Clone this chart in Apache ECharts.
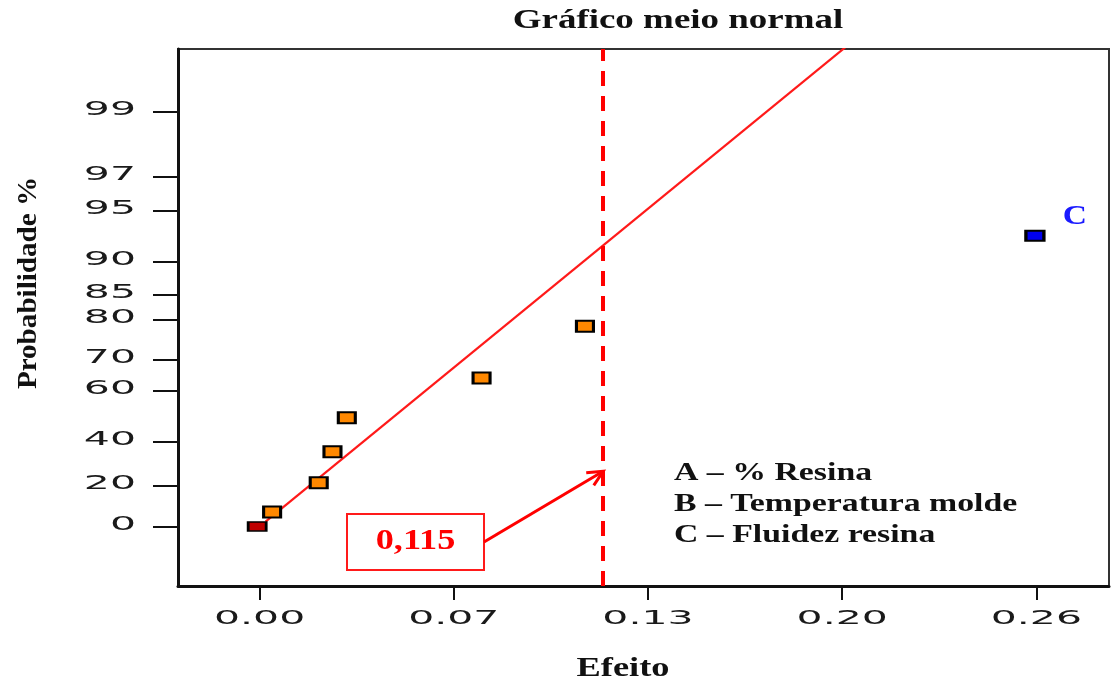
<!DOCTYPE html>
<html>
<head>
<meta charset="utf-8">
<script src="https://cdn.jsdelivr.net/npm/echarts@6/dist/echarts.min.js"></script>
<style>
  html, body { margin: 0; padding: 0; background: #fff; }
  #chart { width: 1112px; height: 685px; }
</style>
</head>
<body>
<div id="chart"></div>
<script>
// Half-normal probability plot of the effects (probability axis in %).
const probTicks = [0, 20, 40, 60, 70, 80, 85, 90, 95, 97, 99];
const effectTicks = [0, 0.065, 0.13, 0.195, 0.26];
const effectTickLabels = ['0.00', '0.07', '0.13', '0.20', '0.26'];

// effects and their half-normal probabilities (%)
const effects = [0.0042, 0.0198, 0.0244, 0.0292, 0.0743, 0.1089];
const effectProbs = [7.1, 21.4, 35.7, 50.0, 64.3, 78.6];
const significantEffects = [0.2595];
const significantProbs = [92.9];
const significantNames = ['C'];
const originEffects = [-0.0008];
const originProbs = [0];

// fitted reference line (end points) and the significance threshold
const fitEffects = [0.002, 0.2];
const fitProbs = [2.4, 99.76];
const threshold = 0.115;
const thresholdLabel = '0,115';
const arrowTipProb = 26.8;

const factorNames = ['A – % Resina', 'B – Temperatura molde', 'C – Fluidez resina'];

// inverse of the standard normal CDF (Acklam)
function invNorm(p) {
  const a = [-3.969683028665376e+01, 2.209460984245205e+02, -2.759285104469687e+02, 1.383577518672690e+02, -3.066479806614716e+01, 2.506628277459239e+00];
  const b = [-5.447609879822406e+01, 1.615858368580409e+02, -1.556989798598866e+02, 6.680131188771972e+01, -1.328068155288572e+01];
  const c = [-7.784894002430293e-03, -3.223964580411365e-01, -2.400758277161838e+00, -2.549732539343734e+00, 4.374664141464968e+00, 2.938163982698783e+00];
  const d = [7.784695709041462e-03, 3.224671290700398e-01, 2.445134137142996e+00, 3.754408661907416e+00];
  const plow = 0.02425, phigh = 1 - plow;
  let q, r;
  if (p < plow) {
    q = Math.sqrt(-2 * Math.log(p));
    return (((((c[0]*q+c[1])*q+c[2])*q+c[3])*q+c[4])*q+c[5]) / ((((d[0]*q+d[1])*q+d[2])*q+d[3])*q+1);
  }
  if (p <= phigh) {
    q = p - 0.5; r = q * q;
    return (((((a[0]*r+a[1])*r+a[2])*r+a[3])*r+a[4])*r+a[5])*q / (((((b[0]*r+b[1])*r+b[2])*r+b[3])*r+b[4])*r+1);
  }
  q = Math.sqrt(-2 * Math.log(1 - p));
  return -(((((c[0]*q+c[1])*q+c[2])*q+c[3])*q+c[4])*q+c[5]) / ((((d[0]*q+d[1])*q+d[2])*q+d[3])*q+1);
}
// half-normal score of a percentage
const hn = pct => (pct <= 0 ? 0 : invNorm(0.5 + pct / 200));

const pairs = (xs, ps) => xs.map((x, i) => [x, hn(ps[i])]);

const SERIF = '"Liberation Serif", "DejaVu Serif", serif';
const SANS = '"DejaVu Sans", sans-serif';

const chart = echarts.init(document.getElementById('chart'));

chart.setOption({
  backgroundColor: '#ffffff',
  animation: false,
  grid: {
    left: 178, right: 3, top: 49, bottom: 99,
    show: true, borderColor: '#333', borderWidth: 2, backgroundColor: 'transparent'
  },
  xAxis: {
    type: 'value', min: -0.0273, max: 0.2843,
    axisLine: { show: true, onZero: false, lineStyle: { color: '#111', width: 3 } },
    axisTick: { show: true, customValues: effectTicks, length: 14, lineStyle: { color: '#111', width: 2 } },
    axisLabel: { show: false },
    splitLine: { show: false }
  },
  yAxis: {
    type: 'value', min: -0.370, max: 2.965,
    axisLine: { show: true, onZero: false, lineStyle: { color: '#111', width: 3 } },
    axisTick: { show: true, customValues: probTicks.map(hn), length: 25, lineStyle: { color: '#111', width: 2 } },
    axisLabel: { show: false },
    splitLine: { show: false }
  },
  series: [
    {
      name: 'ajuste', type: 'line', data: pairs(fitEffects, fitProbs),
      symbol: 'none', clip: true,
      lineStyle: { color: '#ff1a1a', width: 2.2 },
      markLine: {
        silent: true, symbol: ['none', 'none'], precision: 4,
        label: { show: false },
        lineStyle: { color: '#ff0000', width: 4, type: [15, 10], opacity: 1 },
        data: [{ xAxis: threshold }]
      },
      z: 2
    },
    {
      name: 'origem', type: 'scatter', data: pairs(originEffects, originProbs),
      symbol: 'rect', symbolSize: [18, 9],
      itemStyle: { color: '#c00000', borderColor: '#000', borderWidth: 2, opacity: 1 },
      z: 3
    },
    {
      name: 'efeitos', type: 'scatter', data: pairs(effects, effectProbs),
      symbol: 'rect', symbolSize: [17, 11],
      itemStyle: { color: '#ff8800', borderColor: '#000', borderWidth: 2.5, opacity: 1 },
      z: 4
    },
    {
      name: 'significativo', type: 'scatter', data: pairs(significantEffects, significantProbs),
      symbol: 'rect', symbolSize: [18, 10],
      itemStyle: { color: '#0000ee', borderColor: '#000', borderWidth: 2.5, opacity: 1 },
      z: 4
    }
  ]
});

// text elements (drawn horizontally widened like the original print)
function txt(x, y, text, o) {
  return {
    type: 'text', x: x, y: y, scaleX: o.sx || 1, rotation: o.rot || 0, silent: true, z: 10,
    style: {
      text: text, fill: o.color || '#111',
      fontFamily: o.family || SERIF, fontSize: o.size || 24, fontWeight: o.weight || 'bold',
      align: o.align || 'center', verticalAlign: 'middle'
    }
  };
}

const toPx = (x, z) => chart.convertToPixel({ gridIndex: 0 }, [x, z]);
const els = [];

// axis tick labels
effectTicks.forEach((v, i) => {
  const p = toPx(v, 0);
  els.push(txt(p[0], 619, effectTickLabels[i], { family: SANS, size: 20, weight: 'normal', color: '#1a1a1a', sx: 2.05 }));
});
probTicks.forEach(v => {
  const p = toPx(0, hn(v));
  els.push(txt(136, p[1] - 2, String(v), { family: SANS, size: 20, weight: 'normal', color: '#1a1a1a', sx: 2.05, align: 'right' }));
});

// titles
els.push(txt(678, 21, 'Gráfico meio normal', { size: 28, sx: 1.32 }));
els.push(txt(623, 669, 'Efeito', { size: 28, sx: 1.3 }));
els.push(txt(29, 283, 'Probabilidade %', { size: 28, sx: 1.04, rot: Math.PI / 2 }));

// factor key
factorNames.forEach((t, i) => {
  els.push(txt(674, 473 + i * 31, t, { size: 26, sx: 1.3, align: 'left' }));
});

// label of the significant effect
significantEffects.forEach((v, i) => {
  const p = toPx(v, hn(significantProbs[i]));
  els.push(txt(p[0] + 40, p[1] - 19, significantNames[i], { size: 28, sx: 1.2, color: '#1a1aff' }));
});

// threshold call-out box and arrow
const box = { x: 347, y: 514, w: 137, h: 56 };
els.push({
  type: 'rect', silent: true, z: 9,
  shape: { x: box.x, y: box.y, width: box.w, height: box.h },
  style: { fill: '#fff', stroke: '#ff1a1a', lineWidth: 2 }
});
els.push(txt(box.x + box.w / 2, box.y + box.h / 2, thresholdLabel, { size: 29, sx: 1.25, color: '#ff0000' }));

const tip = toPx(threshold, hn(arrowTipProb));
const tail = [box.x + box.w, box.y + box.h / 2];
const ang = Math.atan2(tip[1] - tail[1], tip[0] - tail[0]);
const head = 17, spread = 0.45;
els.push({
  type: 'polyline', silent: true, z: 9,
  shape: { points: [tail, tip] },
  style: { stroke: '#ff0000', lineWidth: 3, fill: null }
});
els.push({
  type: 'polyline', silent: true, z: 9,
  shape: { points: [
    [tip[0] - head * Math.cos(ang - spread), tip[1] - head * Math.sin(ang - spread)],
    tip,
    [tip[0] - head * Math.cos(ang + spread), tip[1] - head * Math.sin(ang + spread)]
  ] },
  style: { stroke: '#ff0000', lineWidth: 3, fill: null }
});

chart.setOption({ graphic: { elements: els } });
</script>
</body>
</html>
